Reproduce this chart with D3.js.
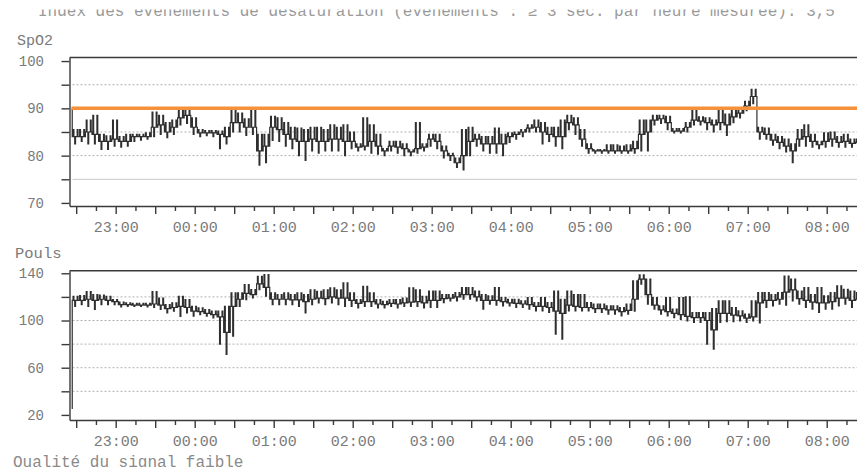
<!DOCTYPE html>
<html>
<head>
<meta charset="utf-8">
<script src="https://cdn.jsdelivr.net/npm/d3@7"></script>
<style>
body { margin: 0; background: #fff; }
svg { display: block; font-family: "Liberation Mono", "Courier New", monospace; }
.lbl { fill: #7a7a7a; }
.axis path, .axis line { stroke: #3a3a3a; stroke-width: 1.4; }
.axis text { fill: #7a7a7a; font-family: "Liberation Mono", "Courier New", monospace; }
.grid { stroke: #b0b0b0; stroke-dasharray: 2,2; stroke-width: 1; }
.trace { fill: none; stroke: #2f2f2f; stroke-width: 1.2; }
</style>
</head>
<body>
<div id="chart"></div>
<script>
// readings in 5 min buckets from 22:27: usual level, low and high of the trace in each bucket
var startTime = new Date(2020, 0, 1, 22, 27);
var stepMin = 5;

var spo2First = 90;
var spo2Mid = [84,84,85,84.5,83,83,83.5,83,83,84,
  84,84,86,86.5,85,86,88,88.5,86,84.8,
  84.8,84.8,84.5,84,87,87,86,86,81,82,
  86,85.5,84.5,83.5,83,83,83.5,83,83,83.5,
  83.5,83,83,81.8,82,83,82,81,82,81.8,
  81.5,80.8,81.5,81.8,83.5,83,81,80,78.5,80,
  83,83.5,82.5,82.5,82.5,82.5,84,84.5,85,85.8,
  86,85,84.5,84,84,87,86.5,83.5,81.5,81,
  81,81,81,81,81,81.5,84.5,85,87.5,87.8,
  87,85.2,85.2,86,87.5,87.3,87,86.5,87,86.5,
  88.2,89,90.5,92.5,85,84.5,83.3,82.8,82,81,
  83.5,84,83,82.3,83,83.5,82.8,83,82.6,82.8];
var spo2Lo = [82.5,83,82.5,82.5,81.3,81.3,82,81.8,82,83,
  83.3,83.5,84,84.5,83.8,84.5,86.5,86.8,84.5,84,
  84.2,84,81.5,82.5,85,85,84.3,84.5,78,78.5,
  83.2,83,82,81.5,80,79,81,80.5,81,81,
  81,80,81.5,81,81.2,80.5,80.3,80,81,80.5,
  80,80,80.5,81,82,81.5,79.5,79,77.5,77,
  80,82,81,80.5,80.5,80,82.8,83.5,84,85,
  85,82.5,83,82,81.5,85.5,84.5,82,80.5,80.5,
  80.5,80.5,80.5,80.5,80.5,80.5,81,81,86.5,86.8,
  85.5,84.8,84.8,85,86.5,86.5,85.5,85,85.5,84.3,
  87,88,89.5,91,83.5,83.5,82.2,81.5,80.8,78.5,
  82,82,81.8,81.5,81.8,82,81.8,81.8,81.8,82];
var spo2Hi = [85.5,85.5,87.5,88.5,84.5,84.2,87.5,84,84.5,84.5,
  84.5,84.8,89.2,88.5,87,87.5,89.5,89.8,88,85.5,
  85.3,85.3,85.2,86,89.5,89,87.8,90,84.5,84.5,
  88.3,88,87,86,85.8,85.5,86,86,85.5,86.5,
  86,86.5,85,82.5,88,86.5,84.5,81.5,83,83,
  82.5,81.2,87,82.5,84.5,84.5,82,80.5,79.5,85.5,
  86,84.5,84,84,85.8,84.5,84.8,85,85.5,86.5,
  87.5,87,86,86,87.5,88.5,88,85.5,82.5,81.3,
  81.3,82.3,82.3,82,82.3,83,87.5,87.5,88.5,88.5,
  88.3,85.7,85.7,87,89.5,88.2,88,87.5,89.5,88.8,
  89.5,90,91.5,94,86,85.8,84.5,84,83.5,82.5,
  85.5,86.5,84.5,83,84.8,85,84,84.5,83.5,83.5];

var pulseFirst = 25;
var pulseMid = [117,117,118,117,118,117,116,113.5,113.5,113,
  113,113,114,113,110,111,112,111,108,107.5,
  106,105,103,90,112,118,123,122,131,128,
  118,118,118,117.5,117.5,116,118,119,118.5,120,
  119,119,117,114.5,116,116,114,113.5,114.5,114,
  115,115.5,116,115,117,117,118.5,119,120,122,
  122,120,117,117,117,116,115,114.5,114,113.5,
  112,112,111,108,106,113,112,111,111,110,
  110,109,109,107.5,108.5,118,135,122,113,109,
  107.5,106,105,103.5,102.5,102.5,100,92,106,106,
  104.5,104,102,103,115,117,117,118,124,126,
  118.5,117,115.5,115,115,116,119,119,117,118];
var pulseLo = [112,113.5,112,109.5,113.5,113.5,113.5,111.5,112,112,
  112,111.5,111,109.5,106.5,108,103.5,106.5,103.7,105,
  103.7,102.2,80,71.3,86.8,112,117.7,119.2,126.2,120.6,
  113.5,113.5,113.5,113.5,112,106.5,113.5,115,113.5,115,
  113.5,112,112,110.7,112,112,110.7,110.7,112,110.7,
  112,112,112,110.7,111,111,115.2,116.6,116.6,118,
  118,116.6,109.6,113.8,113,112.4,112.4,111,111,109.6,
  108.2,108.2,106.8,88.5,84.2,108.2,108.2,108.2,108.2,106.8,
  106.8,105.4,105.4,104,105.4,108,130.7,113.8,109.6,105.4,
  104,102.5,101,99.7,98.3,98.3,80,75.8,98.3,99,
  99,99.7,98.3,99.7,98,111,112.4,113.8,113,116.6,
  113.8,111,109.6,106.8,109.6,109.6,112.4,113.8,111,112.4];
var pulseHi = [120.5,121,124.5,122,121.5,120.5,117.8,115.5,115,114.5,
  114.5,114.5,124.5,119,113.5,115,120.5,117.8,112,110.7,
  109.3,108,108,112,123.5,123.5,130.4,126.2,137.5,138.9,
  123.4,122,123.4,122,123.4,122,126,124.8,126,127.6,
  126,131.8,123.4,117.8,129,123.4,117.8,116.3,117.8,117.8,
  119,127.6,126,120.5,125,125,122,122,123.7,127.9,
  127.9,125,122,120.8,127.9,119.4,118,118,116.6,119.4,
  115.2,119.4,115.2,125,118,125,122,122,115.2,113.8,
  113.8,112.4,112.4,111,113.8,133.5,138.6,135,119.4,112.4,
  119.4,109.6,119.4,120,106.8,106.8,106.8,110,116.6,116.6,
  111,108.2,105.4,116.6,123.7,123.7,122,123.7,137.7,135,
  125,127.9,122,127.9,120.8,123.7,129.3,126.5,125,123.7];

var spo2Ticks = [100, 95, 90, 85, 80, 75, 70];
var spo2Labels = [100, 90, 80, 70];
var spo2Dotted = [95, 90, 85, 80];
var spo2Solid = [75];
var pulseTicks = [140, 120, 100, 80, 60, 40, 20];
var pulseLabels = [140, 100, 60, 20];
var pulseDotted = [120, 100, 80, 60, 40];
var threshold = 90;

var titleText = "Index des événements de désaturation (événements : ≥ 3 sec. par heure mesurée): 3,5";
var footText = "Qualité du signal faible";

var width = 857, height = 467;
var svg = d3.select("#chart").append("svg")
    .attr("width", width)
    .attr("height", height);

var x = d3.scaleTime()
    .domain([new Date(2020, 0, 1, 22, 24, 55), new Date(2020, 0, 2, 8, 23)])
    .range([69.5, 857]);

var ySpo2 = d3.scaleLinear().domain([69.35, 100.75]).range([206, 57.5]);
var yPulse = d3.scaleLinear().domain([15.7, 142.2]).range([420, 270.7]);

// each bucket drawn as a jagged step around its usual level,
// jumping to the bucket's high and low readings
var pattern = ["m", "h", "m", "l", "m", "m", "h", "m"];

function tracePoints(first, mid, lo, hi) {
  var pts = [{t: startTime, v: first}];
  mid.forEach(function(m, i) {
    pattern.forEach(function(p, k) {
      var t = new Date(startTime.getTime() + (i * stepMin + k * stepMin / pattern.length) * 60000);
      pts.push({t: t, v: p == "h" ? hi[i] : (p == "l" ? lo[i] : m)});
    });
  });
  pts.push({t: new Date(startTime.getTime() + mid.length * stepMin * 60000), v: mid[mid.length - 1]});
  return pts;
}

function panel(y, ticks, labels, dotted, solid, first, mid, lo, hi, name, nameX, nameY, nameSize) {
  var g = svg.append("g");
  var x0 = x.range()[0], x1 = x.range()[1];

  g.selectAll(".grid").data(dotted).enter().append("line")
      .attr("class", "grid")
      .attr("x1", x0 + 3).attr("x2", x1)
      .attr("y1", function(d) { return y(d); })
      .attr("y2", function(d) { return y(d); });

  g.selectAll(".solidgrid").data(solid).enter().append("line")
      .attr("x1", x0 + 3).attr("x2", x1)
      .attr("y1", function(d) { return y(d); })
      .attr("y2", function(d) { return y(d); })
      .attr("stroke", "#d2d2d2")
      .attr("stroke-width", 1.2);

  var line = d3.line()
      .x(function(d) { return x(d.t); })
      .y(function(d) { return y(d.v); })
      .curve(d3.curveStepAfter);

  g.append("path")
      .datum(tracePoints(first, mid, lo, hi))
      .attr("class", "trace")
      .attr("d", line);

  // frame top
  g.append("line").attr("x1", x0).attr("x2", x1)
      .attr("y1", y.range()[1]).attr("y2", y.range()[1])
      .attr("stroke", "#3a3a3a").attr("stroke-width", 1.6);

  var yAxis = d3.axisLeft(y)
      .tickValues(ticks)
      .tickSize(8)
      .tickSizeOuter(0)
      .tickPadding(17.5)
      .tickFormat(function(d) { return labels.indexOf(d) >= 0 ? d : ""; });

  g.append("g")
      .attr("class", "axis")
      .attr("transform", "translate(" + x0 + ",0)")
      .call(yAxis)
      .selectAll("text").style("font-size", "14px");

  var xAxis = d3.axisBottom(x)
      .ticks(d3.timeMinute.every(15))
      .tickSize(8)
      .tickSizeOuter(0)
      .tickPadding(7)
      .tickFormat(function(d) { return d.getMinutes() == 0 ? d3.timeFormat("%H:%M")(d) : ""; });

  var ax = g.append("g")
      .attr("class", "axis")
      .attr("transform", "translate(0," + y.range()[0] + ")")
      .call(xAxis);
  ax.selectAll(".tick line")
      .attr("y2", function(d) { return d.getMinutes() % 30 == 0 ? 8 : 5; });
  ax.selectAll("text").style("font-size", "15px");

  g.append("text")
      .attr("class", "lbl")
      .attr("x", nameX)
      .attr("y", nameY)
      .style("font-size", nameSize + "px")
      .text(name);
  return g;
}

panel(ySpo2, spo2Ticks, spo2Labels, spo2Dotted, spo2Solid, spo2First, spo2Mid, spo2Lo, spo2Hi, "SpO2", 17, 45, 15);
panel(yPulse, pulseTicks, pulseLabels, pulseDotted, [], pulseFirst, pulseMid, pulseLo, pulseHi, "Pouls", 15, 258, 15.5);

// desaturation threshold
svg.append("line")
    .attr("x1", 71.5).attr("x2", width)
    .attr("y1", ySpo2(threshold)).attr("y2", ySpo2(threshold))
    .attr("stroke", "#f5913b")
    .attr("stroke-width", 3.5);

// page text, cut by the scan at top and bottom
svg.append("text")
    .attr("x", 38).attr("y", 15.5)
    .attr("fill", "#9a9a9a")
    .style("font-size", "16px")
    .text(titleText);
svg.append("rect")
    .attr("x", 0).attr("y", 0)
    .attr("width", width).attr("height", 9.5)
    .attr("fill", "#fff");

svg.append("text")
    .attr("x", 13).attr("y", 467)
    .attr("fill", "#8a8a8a")
    .style("font-size", "16px")
    .text(footText);
</script>
</body>
</html>
